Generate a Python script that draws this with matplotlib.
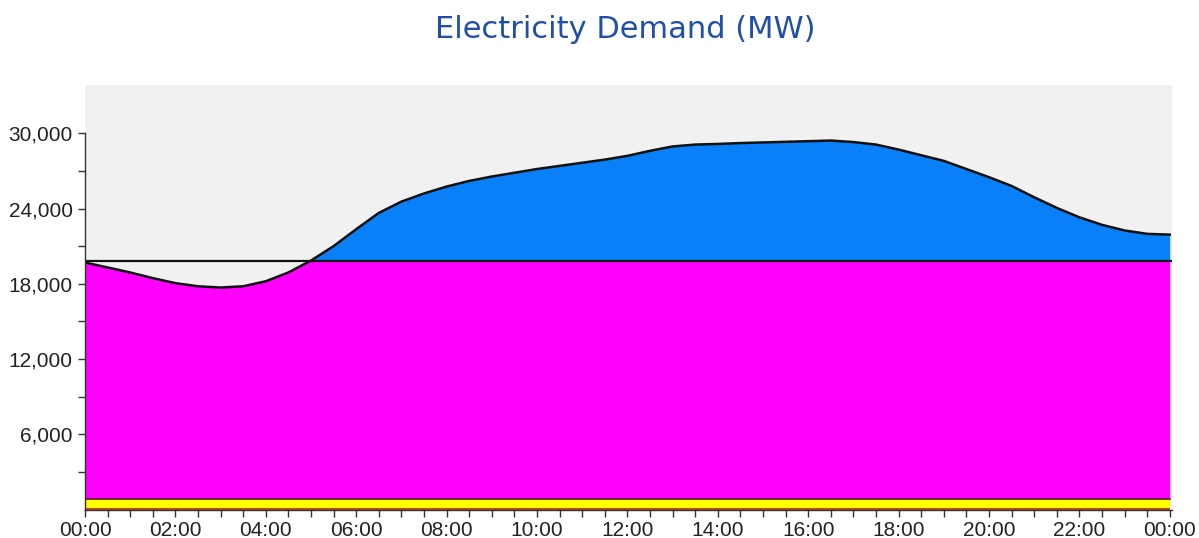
import numpy as np
import matplotlib
matplotlib.use("Agg")
import matplotlib.pyplot as plt
from matplotlib.ticker import MultipleLocator, FixedLocator, FuncFormatter

# half-hourly demand, MW
hours = np.arange(0, 24.5, 0.5)
demand = [19700, 19300, 18900, 18450, 18050, 17800, 17700, 17800, 18200, 18900,
          19850, 21000, 22350, 23650, 24550, 25200, 25750, 26200, 26550, 26850,
          27150, 27400, 27650, 27900, 28200, 28600, 28950, 29100, 29150, 29220,
          29270, 29320, 29370, 29420, 29300, 29100, 28700, 28250, 27800, 27150,
          26500, 25800, 24900, 24050, 23300, 22700, 22250, 21980, 21920]
base_load = 19850
bottom_layer = 100
yellow_layer = 840

y_ticks = [6000, 12000, 18000, 24000, 30000]
y_minor = [3000, 9000, 15000, 21000, 27000]
x_labels = ["00:00", "02:00", "04:00", "06:00", "08:00", "10:00", "12:00",
            "14:00", "16:00", "18:00", "20:00", "22:00", "00:00"]

plt.rcParams['font.family'] = ['Liberation Sans', 'DejaVu Sans']

fig = plt.figure(figsize=(11.99, 5.38), dpi=100)
ax = fig.add_axes([85 / 1199, 28.5 / 538, 1087 / 1199, 424.5 / 538])
ax.set_facecolor('#f1f1f1')

demand = np.array(demand)
lower = np.minimum(demand, base_load)

ax.fill_between(hours, 0, bottom_layer, color='#c04a10', lw=0)
ax.fill_between(hours, bottom_layer, yellow_layer, color='#ffff00', lw=0)
ax.fill_between(hours, yellow_layer, lower, color='#ff00ff', lw=0)
ax.fill_between(hours, base_load, demand, where=demand > base_load,
                interpolate=True, color='#0a80f8', lw=0)
ax.plot(hours, [yellow_layer] * len(hours), color='#5a2a10', lw=1.2)
ax.axhline(base_load, color='#111111', lw=1.6)
ax.plot(hours, demand, color='#111111', lw=1.8, solid_joinstyle='round')

ax.set_xlim(0, 24.05)
ax.set_ylim(0, 33850)

ax.set_yticks(y_ticks)
ax.yaxis.set_minor_locator(FixedLocator(y_minor))
ax.yaxis.set_major_formatter(FuncFormatter(lambda v, p: f"{int(v):,}"))
ax.set_xticks(np.arange(0, 25, 2))
ax.set_xticklabels(x_labels)
ax.xaxis.set_minor_locator(MultipleLocator(0.5))

ax.tick_params(axis='both', which='both', direction='out', length=5,
               width=1, color='#333333', labelsize=15, labelcolor='#222222')
ax.tick_params(axis='y', pad=4)
ax.tick_params(axis='x', pad=3)

for side in ['top', 'right']:
    ax.spines[side].set_visible(False)
for side in ['left', 'bottom']:
    ax.spines[side].set_color('#333333')
    ax.spines[side].set_linewidth(1)
ax.spines['left'].set_bounds(0, 30000)

fig.text(625 / 1199, 1 - 29 / 538, "Electricity Demand (MW)", ha='center',
         va='center', fontsize=22, color='#1f4fa6', family='DejaVu Sans')

fig.savefig("out.png", dpi=100)
